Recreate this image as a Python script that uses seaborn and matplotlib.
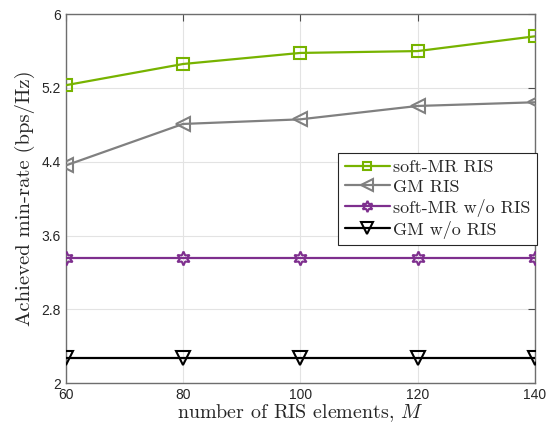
import matplotlib
matplotlib.use("Agg")
import matplotlib.pyplot as plt
import seaborn as sns
import pandas as pd

# RIS element counts on the x axis
m_values = [60, 80, 100, 120, 140]

# achieved min-rate (bps/Hz) per scheme
soft_mr_ris = [5.23, 5.46, 5.58, 5.60, 5.76]
gm_ris = [4.36, 4.81, 4.86, 5.005, 5.045]
soft_mr_no_ris = [3.355, 3.355, 3.355, 3.355, 3.355]
gm_no_ris = [2.27, 2.27, 2.27, 2.27, 2.27]

series_names = ["soft-MR RIS", "GM RIS", "soft-MR w/o RIS", "GM w/o RIS"]
series_values = [soft_mr_ris, gm_ris, soft_mr_no_ris, gm_no_ris]
colors = ["#77b300", "#808080", "#7e2f8e", "#000000"]
markers = ["s", "<", (6, 1, 0), "v"]
msizes = [8, 10, 10, 10]
legend_msizes = [6, 9, 8, 9]

y_ticks = [2, 2.8, 3.6, 4.4, 5.2, 6]
y_tick_labels = ["2", "2.8", "3.6", "4.4", "5.2", "6"]

sns.set_theme(style="white")
plt.rcParams["font.family"] = ["Liberation Sans", "DejaVu Sans"]
plt.rcParams["mathtext.fontset"] = "cm"

frames = []
for name, vals in zip(series_names, series_values):
    frames.append(pd.DataFrame({"M": m_values, "rate": vals, "scheme": name}))
df = pd.concat(frames, ignore_index=True)

fig = plt.figure(figsize=(5.53, 4.30), dpi=100)
ax = fig.add_axes([0.119, 0.109, 0.848, 0.858])

for name, c, mk, ms in zip(series_names, colors, markers, msizes):
    sns.lineplot(data=df[df["scheme"] == name], x="M", y="rate", ax=ax,
                 color=c, marker=mk, markersize=ms, markerfacecolor="none",
                 markeredgecolor=c, markeredgewidth=1.5, linewidth=1.6,
                 label=name, zorder=3)

ax.set_xlim(60, 140)
ax.set_ylim(2, 6)
ax.set_xticks(m_values)
ax.set_yticks(y_ticks)
ax.set_yticklabels(y_tick_labels)
ax.tick_params(direction="in", top=True, right=True, labelsize=10,
               colors="#4d4d4d", labelcolor="#262626", length=5, width=0.8)
ax.grid(True, color="#e3e3e3", linewidth=0.8)
for sp in ax.spines.values():
    sp.set_color("#6e6e6e")
    sp.set_linewidth(1.0)

ax.set_xlabel(r"number of RIS elements, $M$",
              fontdict={"family": "cmr10", "size": 14.4}, labelpad=0)
ax.set_ylabel("Achieved min-rate (bps/Hz)",
              fontdict={"family": "cmr10", "size": 14.9}, labelpad=5)

leg = ax.legend(loc="upper right", bbox_to_anchor=(537 / 553, 1 - 153 / 430),
                bbox_transform=fig.transFigure,
                prop={"family": "cmr10", "size": 13}, frameon=True,
                fancybox=False, edgecolor="#262626", framealpha=1,
                handlelength=2.5, handletextpad=0.2, borderpad=0.35,
                labelspacing=0.22, borderaxespad=0)
leg.get_frame().set_linewidth(0.8)
for line, ms in zip(leg.get_lines(), legend_msizes):
    line.set_markersize(ms)

fig.savefig("out.png", dpi=100)
